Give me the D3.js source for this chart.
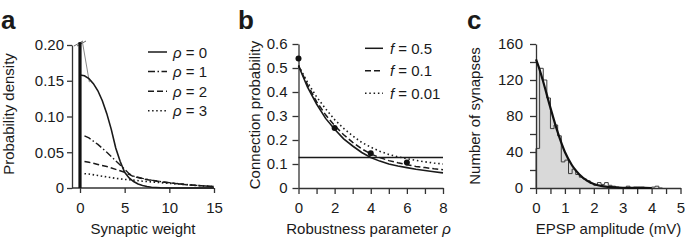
<!DOCTYPE html>
<html><head><meta charset="utf-8">
<script src="https://cdn.jsdelivr.net/npm/d3@7"></script>
<style>
html,body{margin:0;padding:0;background:#fff;}
svg text{font-family:"Liberation Sans",Arial,Helvetica,sans-serif;fill:#1a1a1a;}
</style></head>
<body>
<svg id="chart" width="685" height="241"></svg>
<script>
// ---------- Panel a data ----------
const aXTicks = [0, 5, 10, 15];
const aYTicks = [0, 0.05, 0.10, 0.15, 0.20];
const aYTickLabels = ["0", "0.05", "0.10", "0.15", "0.20"];
const rho0 = [[0,0.158],[0.5,0.157],[1,0.153],[1.5,0.146],[2,0.136],[2.5,0.122],[3,0.104],[3.5,0.082],[4,0.056],[4.5,0.037],[5,0.022],[5.5,0.014],[6,0.009],[6.5,0.0055],[7,0.0035],[7.5,0.002],[8,0.001],[9,0.0003],[10,0],[15,0]];
const rho1 = [[0.5,0.073],[1,0.07],[2,0.061],[3,0.05],[4,0.038],[5,0.026],[5.5,0.02],[6,0.0165],[7,0.0135],[8,0.011],[9,0.009],[10,0.0075],[11,0.006],[12,0.0048],[13,0.0037],[14,0.0028],[15,0.002]];
const rho2 = [[0.5,0.037],[1,0.036],[2,0.033],[3,0.03],[4,0.026],[5,0.022],[5.5,0.019],[6,0.016],[7,0.013],[8,0.0105],[9,0.0088],[10,0.0072],[11,0.0058],[12,0.0046],[13,0.0036],[14,0.0027],[15,0.0019]];
const rho3 = [[0.5,0.02],[1,0.0195],[2,0.0175],[3,0.0155],[4,0.0135],[5,0.012],[6,0.011],[7,0.0095],[8,0.0085],[9,0.0075],[10,0.0065],[11,0.0055],[12,0.0045],[13,0.0035],[14,0.0027],[15,0.002]];
const rho0Upper = [[0.26,0.205],[1.05,0.148]];
const deltaSpike = [[0,0],[0,0.204]];
const aLegend = ["0", "1", "2", "3"];

// ---------- Panel b data ----------
const bXTicks = [0,1,2,3,4,5,6,7,8];
const bXTickLabels = [0,2,4,6,8];
const bYTicks = [0,0.1,0.2,0.3,0.4,0.5,0.6];
const bYTickLabels = ["0","0.1","0.2","0.3","0.4","0.5","0.6"];
const f05 = [[0,0.51],[0.5,0.42],[1,0.35],[1.5,0.29],[2,0.245],[2.5,0.205],[3,0.175],[3.5,0.148],[4,0.127],[4.5,0.112],[5,0.1],[5.5,0.092],[6,0.085],[6.5,0.078],[7,0.073],[7.5,0.068],[8,0.063]];
const f01 = [[0,0.51],[0.5,0.43],[1,0.36],[1.5,0.305],[2,0.26],[2.5,0.222],[3,0.19],[3.5,0.163],[4,0.142],[4.5,0.127],[5,0.114],[5.5,0.105],[6,0.097],[6.5,0.09],[7,0.085],[7.5,0.08],[8,0.076]];
const f001 = [[0,0.51],[0.5,0.44],[1,0.38],[1.5,0.33],[2,0.285],[2.5,0.248],[3,0.217],[3.5,0.19],[4,0.17],[4.5,0.153],[5,0.14],[5.5,0.13],[6,0.122],[6.5,0.115],[7,0.109],[7.5,0.104],[8,0.1]];
const bPoints = [[0,0.54],[2,0.25],[4,0.145],[6,0.106]];
const bBaseline = [[0,0.127],[8,0.127]];
const bLegend = ["0.5", "0.1", "0.01"];

// ---------- Panel c data ----------
const cXTicks = [0,0.5,1,1.5,2,2.5,3,3.5,4,4.5,5];
const cXTickLabels = [0,1,2,3,4,5];
const cYTicks = [0,20,40,60,80,100,120,140,160];
const cYTickLabels = [0,40,80,120,160];
const binWidth = 0.125;
const histCounts = [44,133,120,100,66,70,58,29,31,16,21,15,12,10,8,5,3,6,4,6,3,2,1,0,0,2,0,1,1,1,0,0,1,2,0];
const fitCurve = [[0,143],[0.1,134],[0.25,118],[0.5,89],[0.75,62],[1,40],[1.25,25],[1.5,15],[1.75,8.5],[2,4.5],[2.25,2.3],[2.5,1.2],[2.75,0.6],[3,0.3],[3.5,0.1],[4,0]];

// ---------- Drawing ----------
const svg = d3.select("#chart");
const INK = "#1a1a1a", AXIS = "#333";
const FS = 15;

function styleAxis(g){
  g.selectAll("path.domain").attr("stroke", AXIS).attr("stroke-width", 1.3);
  g.selectAll(".tick line").attr("stroke", AXIS).attr("stroke-width", 1.3);
  g.selectAll(".tick text").attr("font-size", FS).attr("fill", INK)
    .style("font-family", '"Liberation Sans",Arial,Helvetica,sans-serif');
}
function panelLabel(txt, x, y){
  svg.append("text").attr("x", x).attr("y", y).attr("font-size", 26).attr("font-weight", "bold").text(txt);
}
function yLabel(txt, x, y){
  svg.append("text").attr("transform", `translate(${x},${y}) rotate(-90)`).attr("text-anchor","middle").attr("font-size", FS).text(txt);
}

// ===== Panel a =====
{
  const x = d3.scaleLinear().domain([0,15]).range([80,214]);
  const y = d3.scaleLinear().domain([0,0.2]).range([188,45]);
  const axisX = 72;
  const gx = svg.append("g").attr("transform","translate(0,188)")
    .call(d3.axisBottom(x).tickValues(aXTicks).tickSize(5).tickPadding(9).tickFormat(d3.format("d")));
  gx.select("path.domain").remove();
  svg.append("line").attr("x1",axisX).attr("x2",x(15)).attr("y1",188).attr("y2",188).attr("stroke",AXIS).attr("stroke-width",1.3);
  styleAxis(gx);
  const gy = svg.append("g").attr("transform",`translate(${axisX},0)`)
    .call(d3.axisLeft(y).tickValues(aYTicks).tickSize(5).tickPadding(3).tickSizeOuter(0).tickFormat((d,i)=>aYTickLabels[i]));
  styleAxis(gy);
  // axis break marks
  [0,3].forEach(o=>{
    svg.append("line").attr("x1",x(0)-6+o).attr("y1",y(0.2)+1).attr("x2",x(0)+3+o).attr("y2",y(0.2)-4)
      .attr("stroke","#555").attr("stroke-width",0.9);
  });
  const line = d3.line().x(d=>x(d[0])).y(d=>y(d[1]));
  svg.append("path").attr("d",line(rho0Upper)).attr("fill","none").attr("stroke","#888").attr("stroke-width",1);
  svg.append("path").attr("d",line(rho3)).attr("fill","none").attr("stroke",INK).attr("stroke-width",1.6).attr("stroke-dasharray","1.5,2.6");
  svg.append("path").attr("d",line(rho2)).attr("fill","none").attr("stroke",INK).attr("stroke-width",1.5).attr("stroke-dasharray","6,3");
  svg.append("path").attr("d",line(rho1)).attr("fill","none").attr("stroke",INK).attr("stroke-width",1.4).attr("stroke-dasharray","7,2.5,1.5,2.5");
  svg.append("path").attr("d",line(rho0)).attr("fill","none").attr("stroke",INK).attr("stroke-width",1.6);
  svg.append("path").attr("d",line(deltaSpike)).attr("fill","none").attr("stroke","#111").attr("stroke-width",3.2);
  // legend
  const dashes = [null,"7,2.5,1.5,2.5","6,3","1.5,2.6"];
  aLegend.forEach((v,i)=>{
    const ly = 52 + i*19.6;
    svg.append("line").attr("x1",148).attr("x2",167).attr("y1",ly).attr("y2",ly)
      .attr("stroke",INK).attr("stroke-width",1.5).attr("stroke-dasharray",dashes[i]);
    const t = svg.append("text").attr("x",173).attr("y",ly+5.5).attr("font-size",FS);
    t.append("tspan").attr("font-style","italic").text("ρ");
    t.append("tspan").text(" = " + v);
  });
  svg.append("text").attr("x",143).attr("y",233.5).attr("text-anchor","middle").attr("font-size",FS).text("Synaptic weight");
  yLabel("Probability density", 14, 114);
  panelLabel("a", 1, 29);
}

// ===== Panel b =====
{
  const x = d3.scaleLinear().domain([0,8]).range([298.5,443]);
  const y = d3.scaleLinear().domain([0,0.6]).range([188,44]);
  const gx = svg.append("g").attr("transform","translate(0,188)")
    .call(d3.axisBottom(x).tickValues(bXTicks).tickSize(6).tickPadding(8).tickSizeOuter(0)
      .tickFormat(d=>bXTickLabels.includes(d)?d:""));
  styleAxis(gx);
  const gy = svg.append("g").attr("transform","translate(298.5,0)")
    .call(d3.axisLeft(y).tickValues(bYTicks).tickSize(6).tickPadding(5).tickSizeOuter(0).tickFormat((d,i)=>bYTickLabels[i]));
  styleAxis(gy);
  const line = d3.line().x(d=>x(d[0])).y(d=>y(d[1]));
  svg.append("path").attr("d",line(bBaseline)).attr("fill","none").attr("stroke",INK).attr("stroke-width",1.3);
  svg.append("path").attr("d",line(f001)).attr("fill","none").attr("stroke",INK).attr("stroke-width",1.6).attr("stroke-dasharray","1.5,2.8");
  svg.append("path").attr("d",line(f01)).attr("fill","none").attr("stroke",INK).attr("stroke-width",1.5).attr("stroke-dasharray","6,3");
  svg.append("path").attr("d",line(f05)).attr("fill","none").attr("stroke",INK).attr("stroke-width",1.6);
  svg.selectAll("circle.bp").data(bPoints).enter().append("circle").attr("class","bp")
    .attr("cx",d=>x(d[0])).attr("cy",d=>y(d[1])).attr("r",3).attr("fill","#111");
  const dashes = [null,"6,3","1.5,2.8"];
  bLegend.forEach((v,i)=>{
    const ly = 48.3 + i*22.5;
    svg.append("line").attr("x1",365).attr("x2",383).attr("y1",ly).attr("y2",ly)
      .attr("stroke",INK).attr("stroke-width",1.5).attr("stroke-dasharray",dashes[i]);
    const t = svg.append("text").attr("x",390).attr("y",ly+5.5).attr("font-size",FS);
    t.append("tspan").attr("font-style","italic").text("f");
    t.append("tspan").text(" = " + v);
  });
  const t = svg.append("text").attr("x",368.5).attr("y",233.5).attr("text-anchor","middle").attr("font-size",FS);
  t.append("tspan").text("Robustness parameter ");
  t.append("tspan").attr("font-style","italic").text("ρ");
  yLabel("Connection probability", 260, 115);
  panelLabel("b", 238, 29);
}

// ===== Panel c =====
{
  const x = d3.scaleLinear().domain([0,5]).range([536,680.5]);
  const y = d3.scaleLinear().domain([0,160]).range([188,44]);
  // fill under fit curve
  const area = d3.area().x(d=>x(d[0])).y0(y(0)).y1(d=>y(d[1]));
  svg.append("path").attr("d",area(fitCurve)).attr("fill","#d9d9d9");
  // histogram outline
  const p = d3.path();
  p.moveTo(x(0), y(0));
  histCounts.forEach((c,i)=>{ p.lineTo(x(i*binWidth), y(c)); p.lineTo(x((i+1)*binWidth), y(c)); });
  p.lineTo(x(histCounts.length*binWidth), y(0));
  svg.append("path").attr("d",p.toString()).attr("fill","none").attr("stroke","#3a3a3a").attr("stroke-width",1);
  const gx = svg.append("g").attr("transform","translate(0,188)")
    .call(d3.axisBottom(x).tickValues(cXTicks).tickSize(6).tickPadding(8).tickSizeOuter(0)
      .tickFormat(d=>cXTickLabels.includes(d)?d:""));
  styleAxis(gx);
  const gy = svg.append("g").attr("transform","translate(536,0)")
    .call(d3.axisLeft(y).tickValues(cYTicks).tickSize(6).tickPadding(7).tickSizeOuter(0)
      .tickFormat(d=>cYTickLabels.includes(d)?d:""));
  styleAxis(gy);
  const line = d3.line().x(d=>x(d[0])).y(d=>y(d[1])).curve(d3.curveMonotoneX);
  svg.append("path").attr("d",line(fitCurve)).attr("fill","none").attr("stroke","#111").attr("stroke-width",2.2);
  svg.append("text").attr("x",608.5).attr("y",233.5).attr("text-anchor","middle").attr("font-size",FS).text("EPSP amplitude (mV)");
  yLabel("Number of synapses", 480, 116);
  panelLabel("c", 467, 29);
}
</script>
</body></html>
